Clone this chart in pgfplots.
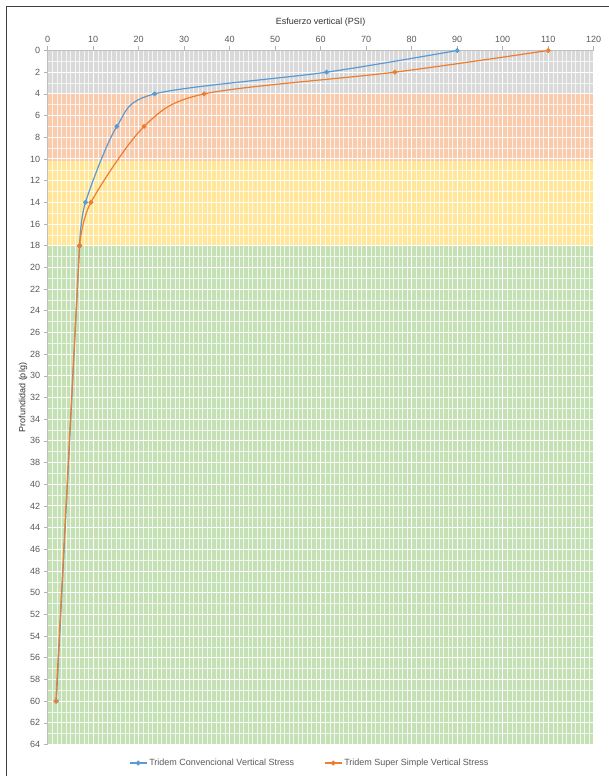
\documentclass[border=0pt]{standalone}
\usepackage{pgfplots}
\pgfplotsset{compat=1.18}
\usepackage{fontspec}
\setmainfont{Liberation Sans}
\definecolor{bandgray}{HTML}{D9D9D9}
\definecolor{bandorange}{HTML}{F8CBAD}
\definecolor{bandyellow}{HTML}{FFE699}
\definecolor{bandgreen}{HTML}{C5E0B4}
\definecolor{sblue}{HTML}{5B9BD5}
\definecolor{sorange}{HTML}{ED7D31}
\definecolor{tickgray}{HTML}{595959}
\begin{document}
\begin{tikzpicture}
\begin{axis}[
  set layers,
  scale only axis,
  width=546pt, height=694pt,
  xmin=0, xmax=120, ymin=0, ymax=64,
  y dir=reverse,
  axis x line*=top, axis y line*=left,
  axis line style={color=black!25, line width=0.8pt},
  xtick={0,10,...,120}, ytick={0,2,...,64},
  minor x tick num=9, minor y tick num=1,
  grid=both,
  major grid style={white, line width=0.9pt},
  minor grid style={white, line width=0.5pt, opacity=0.75},
  tick align=outside,
  major tick length=4pt, minor tick length=0pt,
  tick style={color=black!30, line width=0.6pt},
  ticklabel style={font=\fontsize{9}{10}\selectfont, text=tickgray},
  /pgf/number format/assume math mode=true,
  xlabel={Esfuerzo vertical (PSI)},
  ylabel={Profundidad (plg)},
  xlabel style={at={(axis description cs:0.5,1.041)}, anchor=center, font=\fontsize{9}{10}\selectfont, text=black!80},
  ylabel style={at={(axis description cs:-0.045,0.5)}, anchor=center, font=\fontsize{9}{10}\selectfont, text=black!80},
  legend style={at={(axis description cs:0.48,-0.0267)}, anchor=center, draw=none, fill=none,
    font=\fontsize{9}{10}\selectfont, text=tickgray, /tikz/every even column/.append style={column sep=28pt}},
  legend columns=2,
  clip=false,
]
\addplot[on layer=axis background, draw=none, fill=bandgray, forget plot] coordinates {(0,0) (120,0) (120,3.9) (0,3.9)} -- cycle;
\addplot[on layer=axis background, draw=none, fill=bandorange, forget plot] coordinates {(0,3.9) (120,3.9) (120,10.2) (0,10.2)} -- cycle;
\addplot[on layer=axis background, draw=none, fill=bandyellow, forget plot] coordinates {(0,10.2) (120,10.2) (120,17.9) (0,17.9)} -- cycle;
\addplot[on layer=axis background, draw=none, fill=bandgreen, forget plot] coordinates {(0,17.9) (120,17.9) (120,64) (0,64)} -- cycle;
% lower segments (18 -> 60)
\addplot[color=sblue, line width=1.2pt, mark=*, mark size=1.8pt, mark options={fill=sblue, draw=sblue}, forget plot]
  coordinates {(7.0,18) (1.9,60)};
\addplot[color=sorange, line width=1.2pt, mark=*, mark size=1.8pt, mark options={fill=sorange, draw=sorange}, forget plot]
  coordinates {(7.0,18) (1.8,60)};
% upper segments (0 -> 18)
\addplot[color=sblue, line width=1.2pt, smooth, mark=*, mark size=1.8pt, mark options={fill=sblue, draw=sblue}]
  coordinates {(90,0) (61.3,2) (23.5,4) (15.2,7) (8.3,14) (7.0,18)};
\addlegendentry{Tridem Convencional Vertical Stress}
\addplot[color=sorange, line width=1.2pt, smooth, mark=*, mark size=1.8pt, mark options={fill=sorange, draw=sorange}]
  coordinates {(110,0) (76.3,2) (34.4,4) (21.2,7) (9.5,14) (7.0,18)};
\addlegendentry{Tridem Super Simple Vertical Stress}
\end{axis}
\pgfresetboundingbox
\path[use as bounding box] (-47.7pt,-31.5pt) rectangle (560.3pt,744.5pt);
\draw[color=black!75, line width=1pt] (-40.7pt,-60pt) -- (-40.7pt,737.5pt) -- (600pt,737.5pt);
\end{tikzpicture}
\end{document}
